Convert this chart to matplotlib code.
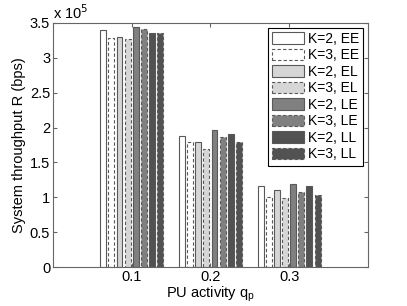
import numpy as np
import matplotlib
matplotlib.use("Agg")
import matplotlib.pyplot as plt

plt.rcParams["font.family"] = ["Liberation Sans", "DejaVu Sans"]
plt.rcParams["font.size"] = 10.5

# PU activity values and throughput (bps) per scheme
qp = [0.1, 0.2, 0.3]
labels = ["K=2, EE", "K=3, EE", "K=2, EL", "K=3, EL",
          "K=2, LE", "K=3, LE", "K=2, LL", "K=3, LL"]
k2_ee = [3.40e5, 1.88e5, 1.17e5]
k3_ee = [3.28e5, 1.80e5, 1.01e5]
k2_el = [3.30e5, 1.79e5, 1.11e5]
k3_el = [3.27e5, 1.69e5, 0.99e5]
k2_le = [3.44e5, 1.97e5, 1.19e5]
k3_le = [3.41e5, 1.87e5, 1.07e5]
k2_ll = [3.36e5, 1.91e5, 1.16e5]
k3_ll = [3.35e5, 1.79e5, 1.03e5]
series = [k2_ee, k3_ee, k2_el, k3_el, k2_le, k3_le, k2_ll, k3_ll]

fills = ["white", "white", "0.84", "0.84", "0.5", "0.5", "0.32", "0.32"]
styles = ["-", (0, (3, 2))] * 4

fig = plt.figure(figsize=(4.07, 3.06), dpi=100)
ax = fig.add_axes([0.130, 0.127, 0.774, 0.798])

slot = 0.0103
width = 0.0075
x = np.array(qp)
for i, vals in enumerate(series):
    ax.bar(x + (i - 3.5) * slot, np.array(vals) / 1e5, width,
           color=fills[i], edgecolor="0.35", linewidth=0.8,
           linestyle=styles[i], label=labels[i])

ax.set_xlim(0, 0.4)
ax.set_ylim(0, 3.5)
ax.set_xticks(qp)
ax.set_xticklabels(["0.1", "0.2", "0.3"])
ax.set_yticks(np.arange(0, 3.51, 0.5))
ax.set_yticklabels(["0", "0.5", "1", "1.5", "2", "2.5", "3", "3.5"])
ax.tick_params(direction="in", top=True, right=True, length=3, color="0.4",
               pad=2)
for s in ax.spines.values():
    s.set_color("0.4")

ax.text(0.0, 1.005, r"x 10$^5$", transform=ax.transAxes, ha="left", va="bottom")
ax.set_xlabel("PU activity q$_\\mathregular{p}$", labelpad=0)
ax.set_ylabel("System throughput R (bps)", labelpad=3)

leg = ax.legend(loc="upper right", fancybox=False, edgecolor="black",
                framealpha=1, borderaxespad=0.35, handlelength=2.3,
                handleheight=0.9, labelspacing=0.18, handletextpad=0.25,
                borderpad=0.3, fontsize=10)
leg.get_frame().set_linewidth(0.8)

fig.savefig("out.png", dpi=100)
